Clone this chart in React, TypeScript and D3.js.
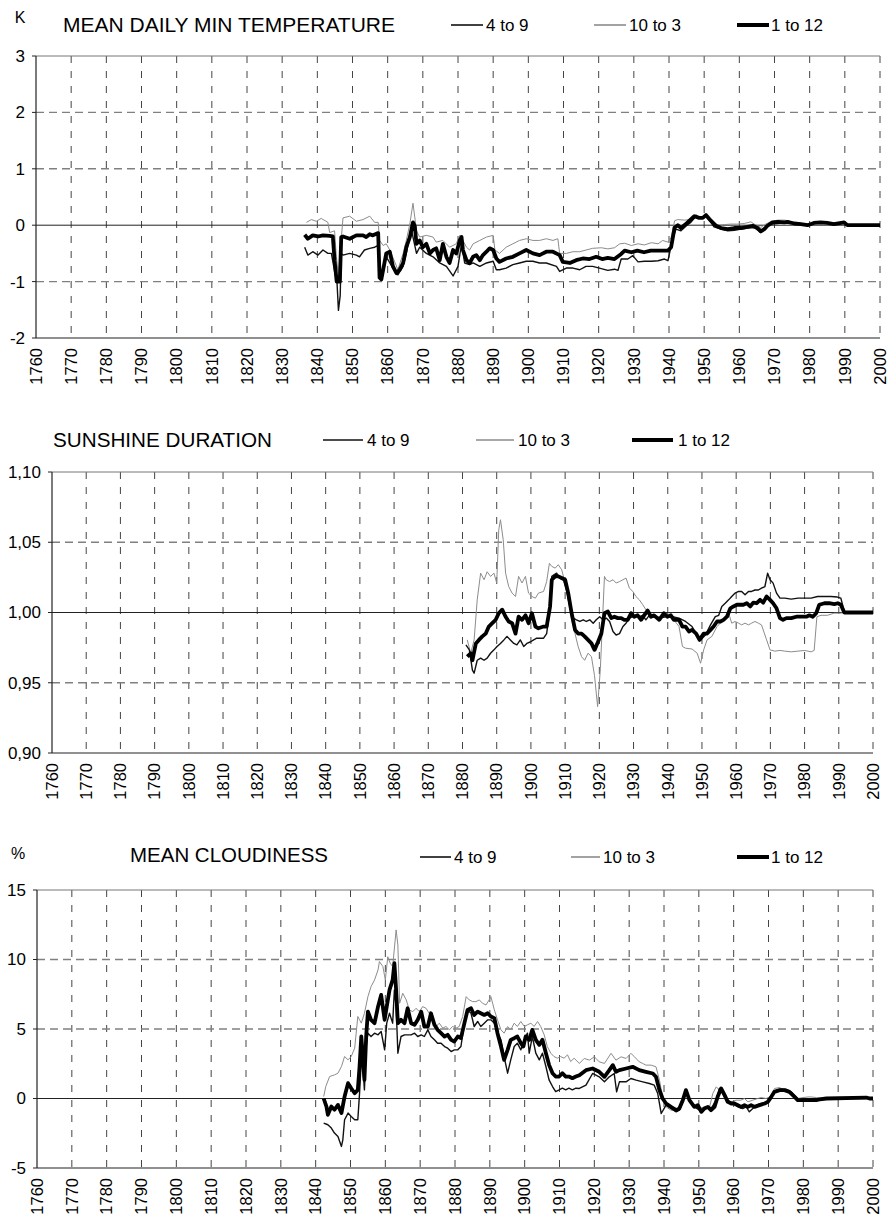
import React from 'react';
import * as d3 from 'd3';

type Pt = [number, number];

// x axis tick labels (shared by all three panels)
const decades = [1760, 1770, 1780, 1790, 1800, 1810, 1820, 1830, 1840, 1850, 1860, 1870, 1880,
  1890, 1900, 1910, 1920, 1930, 1940, 1950, 1960, 1970, 1980, 1990, 2000];

const seasons = ['4 to 9', '10 to 3', '1 to 12'];

// ---- MEAN DAILY MIN TEMPERATURE (K) ----
const tminTicks = [-2, -1, 0, 1, 2, 3];

const tmin4to9: Pt[] = [
  [1836.4, -0.39], [1837.3, -0.53], [1838.7, -0.47], [1840.2, -0.53], [1841.6, -0.44], [1843, -0.5], [1844, -0.5],
  [1845, -0.85], [1845.6, -1.02], [1846, -1.51], [1846.5, -1.25], [1846.8, -0.5], [1847.3, -0.53], [1849.2, -0.5],
  [1851.1, -0.53], [1852, -0.56], [1853.4, -0.44], [1854.9, -0.41], [1856.3, -0.39], [1857.3, -0.36], [1857.8, -0.85],
  [1858.2, -0.95], [1859.6, -0.56], [1861.5, -0.76], [1862.9, -0.88], [1864.4, -0.73], [1865.3, -0.5], [1866.7, -0.07],
  [1867.2, -0.21], [1868.2, -0.5], [1869.1, -0.39], [1871, -0.5], [1872.9, -0.56], [1874.8, -0.67], [1876.7, -0.73],
  [1878.6, -0.9], [1880, -0.73], [1881, -0.33], [1881.9, -0.67], [1883.3, -0.7], [1884.3, -0.67], [1886.2, -0.73],
  [1888.1, -0.67], [1890, -0.64], [1890.9, -0.79], [1891.8, -0.79], [1893.7, -0.76], [1895.6, -0.7], [1897.5, -0.67],
  [1899.4, -0.64], [1901.3, -0.64], [1903.2, -0.67], [1905.1, -0.67], [1908, -0.73], [1908.9, -0.82], [1910.8, -0.76],
  [1912.7, -0.76], [1914.6, -0.79], [1916.4, -0.73], [1918.3, -0.73], [1920.2, -0.76], [1922.6, -0.8], [1924.5, -0.78],
  [1925.5, -0.8], [1926.4, -0.6], [1928.3, -0.6], [1929.7, -0.54], [1931.2, -0.65], [1933, -0.64], [1935, -0.64],
  [1936.9, -0.63], [1938.7, -0.6], [1939.7, -0.63], [1941.1, -0.22], [1942, -0.07], [1943.4, -0.1], [1945.1, 0.0],
  [1946.2, 0.05], [1947.7, 0.16], [1949.1, 0.12], [1950.5, 0.16], [1951.9, 0.05], [1952.8, -0.03], [1954.8, -0.07],
  [1956.7, -0.1], [1958.6, -0.09], [1960.5, -0.07], [1962.3, -0.05], [1964.2, -0.04], [1966.1, -0.13], [1967.5, -0.05],
  [1968.9, 0.02], [1970.9, 0.03], [1973.7, 0.05], [1976.5, 0.04], [1979.4, 0.0], [1981.2, 0.05], [1985, 0.04],
  [1987.9, 0.03], [1989.8, 0.05], [1990.7, 0.0], [2000, 0.0],
];

const tmin10to3: Pt[] = [
  [1836.9, 0.05], [1838.3, 0.1], [1839.7, 0.07], [1841.1, 0.12], [1843, 0.05], [1843.5, -0.13], [1844.9, -0.1],
  [1845.4, -0.55], [1846, -0.9], [1846.6, -0.4], [1847.3, 0.13], [1849.2, 0.16], [1851.1, 0.07], [1853, 0.1],
  [1854.9, 0.16], [1856.3, 0.05], [1857.3, 0.05], [1857.7, -0.27], [1858.7, -0.36], [1859.6, -0.33], [1860.6, -0.44],
  [1862, -0.65], [1862.9, -0.79], [1864.4, -0.5], [1865.3, -0.27], [1866.3, 0.02], [1867.2, 0.39], [1868.2, -0.1],
  [1869.1, -0.21], [1871, -0.18], [1872.9, -0.21], [1873.8, -0.3], [1875.7, -0.27], [1877.6, -0.39], [1879.5, -0.33],
  [1880.5, -0.18], [1881.4, -0.27], [1882.4, -0.39], [1883.3, -0.44], [1884.3, -0.33], [1886.2, -0.27], [1888.1, -0.21],
  [1890, -0.18], [1890.5, -0.44], [1891.8, -0.5], [1893.7, -0.39], [1895.6, -0.33], [1897.5, -0.27], [1899.4, -0.24],
  [1901.3, -0.27], [1903.2, -0.27], [1905.1, -0.24], [1907, -0.27], [1908.4, -0.24], [1908.9, -0.5], [1910.8, -0.5],
  [1912.7, -0.47], [1914.6, -0.47], [1916.4, -0.44], [1918.3, -0.41], [1920.8, -0.4], [1922.6, -0.42], [1924.5, -0.4],
  [1926, -0.33], [1927.4, -0.32], [1929.3, -0.36], [1931.2, -0.33], [1933, -0.35], [1935, -0.31], [1936.9, -0.33],
  [1938.2, -0.27], [1939.7, -0.3], [1940.6, -0.22], [1941.6, 0.08], [1942.5, 0.1], [1944.4, 0.09], [1946.2, 0.1],
  [1947.7, 0.19], [1949.1, 0.12], [1950.5, 0.18], [1952.4, 0.08], [1953.8, 0.0], [1955.7, 0.01], [1957.6, 0.02],
  [1959.5, 0.02], [1961.4, 0.03], [1963.3, 0.06], [1964.2, 0.02], [1966.1, -0.04], [1967.5, 0.02], [1968.9, 0.06],
  [1970.9, 0.09], [1972.8, 0.09], [1973.7, 0.08], [1975.6, 0.05], [1978.5, 0.02], [1981.2, 0.04], [1985, 0.03],
  [1988.8, 0.03], [1990.7, 0.0], [2000, 0.0],
];

const tmin1to12: Pt[] = [
  [1836.4, -0.17], [1837.3, -0.24], [1838.7, -0.18], [1840.2, -0.2], [1841.6, -0.18], [1843.5, -0.19], [1844.4, -0.2],
  [1844.9, -0.62], [1845.5, -1.0], [1846.4, -1.0], [1846.8, -0.21], [1847.3, -0.2], [1849.2, -0.24], [1851.1, -0.18],
  [1853, -0.18], [1853.9, -0.21], [1854.9, -0.16], [1855.8, -0.18], [1857.3, -0.14], [1857.7, -0.93], [1858.2, -0.96],
  [1859.6, -0.5], [1860.6, -0.47], [1861.5, -0.73], [1862.5, -0.85], [1863.4, -0.79], [1864.4, -0.67], [1865.3, -0.39],
  [1866.3, -0.21], [1867.2, 0.05], [1867.7, -0.01], [1868.2, -0.33], [1869.1, -0.27], [1870, -0.39], [1871, -0.33],
  [1872, -0.5], [1872.9, -0.44], [1873.8, -0.41], [1874.8, -0.62], [1875.7, -0.33], [1876.7, -0.56], [1877.6, -0.67],
  [1878.6, -0.44], [1879.5, -0.5], [1880.5, -0.27], [1881, -0.21], [1881.4, -0.44], [1882.4, -0.62], [1883.3, -0.67],
  [1884.3, -0.56], [1885.2, -0.53], [1886.2, -0.62], [1887.1, -0.53], [1888.1, -0.47], [1889, -0.41], [1890, -0.44],
  [1890.9, -0.59], [1891.8, -0.65], [1893.7, -0.59], [1895.6, -0.56], [1897.5, -0.5], [1899.4, -0.44], [1901.3, -0.5],
  [1903.2, -0.53], [1905.1, -0.47], [1907, -0.47], [1908.9, -0.53], [1909.8, -0.65], [1911.8, -0.67], [1913.6, -0.62],
  [1915.5, -0.59], [1917.4, -0.6], [1919.3, -0.56], [1921, -0.6], [1922.6, -0.58], [1924.5, -0.6], [1926.4, -0.51],
  [1927.4, -0.45], [1929.3, -0.48], [1931, -0.45], [1932.9, -0.48], [1934.8, -0.45], [1936.7, -0.45], [1938.6, -0.45],
  [1939.7, -0.45], [1940.6, -0.39], [1941.6, -0.04], [1942.5, 0.0], [1943.4, -0.05], [1944.8, 0.02], [1945.3, 0.05],
  [1947.2, 0.16], [1948.6, 0.13], [1949.6, 0.13], [1950.5, 0.18], [1951.9, 0.08], [1953.4, -0.01], [1954.8, -0.05],
  [1956.7, -0.07], [1958.6, -0.05], [1960.5, -0.05], [1962.3, -0.03], [1963.8, -0.01], [1965.2, -0.05], [1966.1, -0.11],
  [1967.1, -0.07], [1968, -0.01], [1969.4, 0.05], [1970.9, 0.06], [1972.8, 0.05], [1973.7, 0.06], [1975.6, 0.03],
  [1977.5, 0.02], [1979.4, 0.0], [1981.2, 0.04], [1983.1, 0.05], [1985, 0.04], [1986.9, 0.02], [1989.8, 0.05],
  [1990.7, 0.0], [2000, 0.0],
];

// ---- SUNSHINE DURATION (ratio) ----
const sunTicks = [0.9, 0.95, 1.0, 1.05, 1.1];

const sun4to9: Pt[] = [
  [1881, 0.977], [1882, 0.9734], [1882.9, 0.959], [1883.4, 0.9568], [1884.3, 0.966], [1885.3, 0.9675], [1886.3, 0.966],
  [1887.2, 0.9675], [1888.2, 0.971], [1889.2, 0.9734], [1890.1, 0.9758], [1891.1, 0.978], [1892.1, 0.9805], [1893, 0.983],
  [1894, 0.9805], [1895, 0.978], [1895.9, 0.977], [1896.9, 0.9805], [1897.9, 0.9758], [1898.8, 0.978], [1899.8, 0.979],
  [1900.8, 0.9805], [1901.7, 0.9817], [1903.7, 0.9817], [1904.6, 0.985], [1905.4, 0.9995], [1906.1, 1.0257],
  [1907.5, 1.028], [1908.5, 1.0245], [1909.5, 1.0233], [1910.4, 1.016], [1911.4, 1.0043], [1912.4, 0.996],
  [1913.3, 0.9948], [1914.3, 0.9936], [1915.3, 0.9948], [1916.2, 0.9936], [1917.2, 0.9948], [1918.2, 0.9924],
  [1919.1, 0.9948], [1920.1, 0.997], [1921.1, 0.9948], [1922, 0.996], [1923, 0.9936], [1924, 0.9865], [1924.9, 0.984],
  [1925.9, 0.985], [1926.9, 0.99], [1927.8, 0.9924], [1928.8, 0.996], [1929.8, 0.997], [1930.7, 0.998], [1931.7, 0.997],
  [1932.7, 0.998], [1933.6, 0.9948], [1934.6, 0.998], [1935.6, 0.997], [1937.5, 0.996], [1939.4, 0.997], [1941.4, 0.997],
  [1943.3, 0.996], [1945.2, 0.9936], [1947.1, 0.99], [1948.3, 0.985], [1949.6, 0.9805], [1951, 0.984], [1952.5, 0.9912],
  [1953.9, 0.997], [1954.9, 0.998], [1955.8, 1.0043], [1956.8, 1.0066], [1957.8, 1.009], [1958.7, 1.0114],
  [1959.7, 1.0138], [1960.7, 1.015], [1961.6, 1.015], [1962.6, 1.0126], [1963.6, 1.015], [1964.5, 1.015],
  [1965.5, 1.016], [1966.5, 1.016], [1967.4, 1.0173], [1968.4, 1.0185], [1969.2, 1.028], [1969.9, 1.0233],
  [1970.8, 1.0209], [1971.8, 1.0138], [1972.8, 1.0102], [1974.2, 1.0102], [1976.1, 1.0095], [1978.1, 1.0102],
  [1980, 1.0102], [1981.9, 1.0102], [1983.8, 1.0114], [1985.8, 1.0114], [1987.7, 1.0114], [1989.6, 1.011],
  [1990.6, 1.0102], [1991.6, 1.0007], [2000, 1.0],
];

const sun10to3: Pt[] = [
  [1881.4, 0.9805], [1882.4, 0.971], [1883.4, 0.9805], [1884.3, 1.009], [1885.3, 1.028], [1886.3, 1.0233],
  [1887.2, 1.029], [1888.2, 1.0257], [1889.2, 1.028], [1890, 1.021], [1890.6, 1.0589], [1891.1, 1.066], [1891.9, 1.0518],
  [1892.6, 1.028], [1893.5, 1.0185], [1894.5, 1.0138], [1895.5, 1.0114], [1896.4, 1.0257], [1897.4, 1.021],
  [1898.4, 1.0257], [1899.3, 1.0138], [1900.3, 1.0114], [1901.3, 1.0102], [1902.2, 1.0138], [1903.7, 1.015],
  [1904.6, 1.022], [1905.4, 1.035], [1906.1, 1.0328], [1907.1, 1.0316], [1908, 1.034], [1909, 1.0304], [1910, 1.021],
  [1910.9, 1.009], [1911.9, 0.9948], [1912.9, 0.985], [1913.8, 0.9758], [1914.8, 0.9686], [1915.7, 0.966],
  [1916.7, 0.971], [1917.7, 0.9686], [1918.6, 0.955], [1919.5, 0.933], [1920.3, 0.96], [1921.5, 1.0257],
  [1922, 1.0233], [1923, 1.022], [1924, 1.0233], [1924.9, 1.021], [1925.9, 1.022], [1926.9, 1.0233], [1927.8, 1.0245],
  [1928.8, 1.0173], [1929.8, 1.015], [1930.7, 1.0114], [1931.7, 1.009], [1932.7, 1.0055], [1933.6, 1.002],
  [1934.6, 0.9995], [1935.6, 0.998], [1937.5, 0.997], [1939.4, 0.997], [1941.4, 0.996], [1943.3, 0.99],
  [1944.3, 0.9758], [1945.2, 0.9746], [1947.1, 0.974], [1948.6, 0.971], [1949.6, 0.9639], [1950.5, 0.9734],
  [1951.5, 0.9805], [1952.9, 0.983], [1954.4, 0.99], [1955.8, 0.9936], [1956.8, 0.997], [1957.8, 0.9995],
  [1958.7, 0.9924], [1959.7, 0.9936], [1960.7, 0.9924], [1961.6, 0.9912], [1962.6, 0.9924], [1963.6, 0.9912],
  [1964.5, 0.9924], [1965.5, 0.9936], [1966.5, 0.9924], [1967.4, 0.9912], [1968.9, 0.9805], [1969.9, 0.9734],
  [1971.3, 0.9725], [1972.8, 0.973], [1974.2, 0.9725], [1976.1, 0.972], [1978.1, 0.9725], [1980, 0.973],
  [1981.9, 0.972], [1982.8, 0.973], [1983.6, 0.997], [1984.8, 0.998], [1986.7, 0.998], [1988.6, 0.9995],
  [1990.5, 0.9995], [1991.6, 1.0], [2000, 1.0],
];

const sun1to12: Pt[] = [
  [1881.4, 0.9686], [1882.4, 0.971], [1882.9, 0.966], [1883.9, 0.978], [1884.8, 0.9805], [1885.8, 0.983],
  [1886.8, 0.985], [1887.7, 0.99], [1888.7, 0.9924], [1889.7, 0.9948], [1890.6, 0.9995], [1891.6, 1.002],
  [1892.6, 0.997], [1893.5, 0.9936], [1894.5, 0.9924], [1895.5, 0.985], [1896.4, 0.997], [1897.4, 0.9948],
  [1898.4, 0.998], [1899.3, 0.9924], [1900.3, 0.9995], [1901.3, 0.99], [1902.2, 0.9888], [1903.7, 0.99], [1904.6, 0.99],
  [1905.6, 1.0043], [1906.1, 1.0233], [1907.1, 1.0257], [1908, 1.0257], [1909, 1.0245], [1910, 1.0233],
  [1910.9, 1.0138], [1911.9, 0.9995], [1912.9, 0.9876], [1913.8, 0.985], [1914.8, 0.985], [1915.7, 0.983],
  [1916.7, 0.9805], [1917.7, 0.978], [1918.6, 0.9734], [1919.6, 0.979], [1920.6, 0.985], [1921.5, 0.9995],
  [1922.5, 1.0007], [1923.5, 0.996], [1924.4, 0.997], [1925.4, 0.996], [1926.4, 0.996], [1927.3, 0.9948],
  [1928.3, 0.9948], [1929.3, 0.9995], [1930.2, 0.997], [1931.2, 0.998], [1932.2, 0.9948], [1933.1, 0.998],
  [1934.1, 1.0014], [1935.1, 0.997], [1936, 0.998], [1937.5, 0.9948], [1938.9, 0.9995], [1939.9, 0.997],
  [1940.9, 0.998], [1941.8, 0.9948], [1943.3, 0.9948], [1944.3, 0.99], [1945.2, 0.99], [1946.2, 0.9865],
  [1947.1, 0.9876], [1948.3, 0.985], [1949.3, 0.9805], [1950.5, 0.985], [1951.5, 0.985], [1952.5, 0.9876],
  [1953.4, 0.99], [1954.4, 0.9936], [1955.4, 0.9936], [1956.3, 0.9948], [1957.3, 0.997], [1958.3, 1.003],
  [1959.2, 1.0043], [1960.2, 1.0055], [1961.2, 1.0055], [1962.1, 1.0055], [1963.1, 1.0066], [1964.1, 1.0043],
  [1965, 1.007], [1966, 1.0066], [1967, 1.009], [1967.9, 1.007], [1968.9, 1.0114], [1969.9, 1.009], [1970.8, 1.0066],
  [1971.8, 1.003], [1972.8, 0.996], [1973.7, 0.9948], [1974.7, 0.996], [1976.1, 0.996], [1977.6, 0.997],
  [1979, 0.997], [1980.5, 0.997], [1981.4, 0.998], [1982.4, 0.997], [1983.4, 0.9995], [1984.3, 1.0055],
  [1985.8, 1.0066], [1987.2, 1.0066], [1988.7, 1.006], [1989.7, 1.0066], [1990.6, 1.0055], [1991.6, 1.0], [2000, 1.0],
];

// ---- MEAN CLOUDINESS (%) ----
const cloudTicks = [-5, 0, 5, 10, 15];

const cloud4to9: Pt[] = [
  [1842.3, -1.77], [1843.5, -1.89], [1844.5, -2.13], [1845.4, -2.49], [1846.4, -2.73], [1847.4, -3.45], [1847.8, -2.97],
  [1848.3, -1.53], [1849.3, -1.05], [1850.2, -1.29], [1851.2, -1.53], [1852.1, -1.53], [1852.6, 0.38], [1853.1, 2.78],
  [1853.6, 2.06], [1854, 0.62], [1854.5, 3.74], [1855, 4.7], [1855.9, 4.46], [1856.9, 4.7], [1857.9, 4.58],
  [1858.8, 4.82], [1859.8, 3.5], [1860.4, 5.42], [1861.2, 6.13], [1862.1, 5.42], [1862.6, 7.81], [1863.1, 6.61],
  [1863.6, 3.26], [1864.5, 4.46], [1865.5, 4.58], [1866.4, 4.58], [1867.4, 4.58], [1868.4, 4.7], [1869.3, 4.46],
  [1870.3, 4.58], [1871.2, 4.46], [1872.2, 4.94], [1873.1, 4.46], [1874.1, 4.22], [1875, 3.98], [1876, 3.98],
  [1877, 3.74], [1877.9, 3.62], [1878.9, 3.38], [1879.8, 3.5], [1880.8, 3.5], [1881.7, 3.74], [1882.7, 5.42],
  [1883.6, 6.37], [1884.6, 6.13], [1885.5, 5.18], [1886.5, 5.54], [1887.4, 5.18], [1888.4, 5.42], [1889.4, 5.66],
  [1890.3, 5.66], [1891.3, 5.42], [1892.2, 4.7], [1893.2, 4.22], [1894.1, 3.02], [1895.1, 1.82], [1896, 2.78],
  [1897, 3.74], [1897.9, 3.98], [1898.9, 3.5], [1899.9, 4.22], [1900.8, 4.7], [1901.3, 3.26], [1902.2, 4.46],
  [1903.2, 3.26], [1904.2, 2.78], [1905.1, 3.26], [1906.1, 2.3], [1907, 1.34], [1908, 0.86], [1908.9, 0.5],
  [1909.9, 0.62], [1910.8, 0.74], [1911.8, 0.62], [1912.7, 0.74], [1913.7, 0.62], [1914.7, 0.74], [1915.7, 0.72],
  [1917.6, 0.96], [1919.5, 1.8], [1921.4, 1.56], [1922.9, 1.2], [1924.3, 1.56], [1925.7, 1.8], [1926.4, 0.48],
  [1927.2, 1.2], [1929.1, 1.2], [1930.5, 1.44], [1932, 1.32], [1933.9, 1.2], [1935.8, 1.08], [1937.2, 0.96],
  [1938.2, 0.36], [1939.2, -1.08], [1940.6, -0.48], [1942, -0.72], [1943.5, -0.96], [1944.4, -0.84], [1946.3, 0.36],
  [1947.3, -0.12], [1948.7, -0.6], [1950.2, -0.84], [1951.6, -0.72], [1952.6, -0.6], [1953.5, -0.72], [1955, -0.12],
  [1955.9, 0.72], [1956.9, 0.48], [1958.3, -0.12], [1959.8, -0.36], [1961.2, -0.6], [1962.6, -0.72], [1963.6, -0.6],
  [1964.5, -0.96], [1965.5, -0.72], [1966.5, -0.48], [1967.9, -0.36], [1969.3, -0.31], [1970.3, -0.12],
  [1971.2, 0.24], [1972.2, 0.6], [1973.6, 0.67], [1975.1, 0.65], [1976.5, 0.48], [1978, 0.07], [1978.9, -0.12],
  [1981.8, -0.12], [1984.7, -0.07], [1986.6, 0.0], [2000, 0.0],
];

const cloud10to3: Pt[] = [
  [1842.3, 0.14], [1842.9, 0.86], [1844, 1.58], [1845.4, 1.7], [1846.4, 1.82], [1847.4, 2.3], [1848.3, 3.02],
  [1849.3, 2.78], [1850.2, 3.02], [1851.2, 3.62], [1852.1, 5.9], [1852.6, 5.66], [1853.1, 5.42], [1854, 6.13],
  [1855, 7.33], [1855.9, 8.05], [1856.9, 8.53], [1857.9, 9.25], [1858.3, 9.85], [1859.3, 9.49], [1860, 8.53],
  [1860.7, 10.2], [1861.4, 9.73], [1862.1, 9.49], [1863.1, 12.13], [1863.6, 11.05], [1864.1, 6.85], [1865, 7.57],
  [1866, 7.09], [1866.9, 6.37], [1867.9, 6.25], [1868.8, 6.49], [1869.8, 6.25], [1870.7, 6.61], [1871.7, 6.49],
  [1872.6, 6.13], [1873.6, 5.66], [1874.6, 5.18], [1875.5, 5.42], [1876.5, 5.06], [1877.4, 5.18], [1878.4, 4.94],
  [1879.3, 5.18], [1880.3, 5.06], [1881.2, 5.18], [1882.2, 5.9], [1883.2, 7.33], [1884.1, 7.09], [1885.1, 6.97],
  [1886, 6.97], [1887, 7.09], [1887.9, 6.85], [1888.9, 6.73], [1889.8, 7.09], [1890.3, 7.33], [1891.3, 6.37],
  [1892.2, 5.66], [1893.2, 4.94], [1894.1, 4.7], [1895.1, 5.18], [1896, 4.94], [1897, 5.42], [1897.9, 5.18],
  [1898.9, 5.54], [1899.9, 5.18], [1900.8, 5.3], [1901.8, 5.42], [1902.7, 5.18], [1903.7, 5.54], [1904.6, 5.18],
  [1905.6, 4.58], [1906.5, 3.74], [1907.5, 3.26], [1908.4, 3.02], [1909.4, 2.9], [1910.3, 3.02], [1911.3, 2.9],
  [1912.3, 3.14], [1913.2, 2.66], [1914.2, 2.9], [1915.7, 2.52], [1917.1, 2.88], [1918.6, 2.76], [1920, 3.0],
  [1921.4, 2.64], [1922.9, 2.52], [1924.8, 3.25], [1926.2, 2.76], [1927.7, 3.0], [1929.1, 2.88], [1930.5, 3.25],
  [1931.5, 3.0], [1932.9, 2.64], [1933.9, 2.52], [1934.8, 2.4], [1936.3, 2.4], [1937.7, 2.28], [1938.7, 1.32],
  [1939.6, 0.12], [1940.6, -0.6], [1942, -0.84], [1943.5, -0.84], [1944.4, -0.6], [1945.4, 0.12], [1946.3, 0.36],
  [1947.3, -0.12], [1948.7, -0.48], [1950.2, -0.72], [1951.6, -0.6], [1953, -0.72], [1954, 0.36], [1955, 0.84],
  [1956.4, 0.48], [1957.8, -0.12], [1959.3, -0.24], [1960.7, -0.12], [1962.1, -0.12], [1963.1, 0.0], [1964.1, -0.24],
  [1965.5, -0.12], [1966.9, 0.0], [1967.9, 0.07], [1969.3, 0.0], [1970.8, 0.17], [1971.7, 0.72], [1973.2, 0.79],
  [1974.6, 0.6], [1976, 0.48], [1977.5, 0.24], [1978.4, 0.0], [1979.9, 0.07], [1981.8, 0.12], [1983.7, 0.07],
  [1986.6, 0.0], [2000, 0.0],
];

const cloud1to12: Pt[] = [
  [1842.3, 0.0], [1843.1, -0.58], [1843.5, -1.17], [1844.5, -0.58], [1845.4, -0.81], [1846.4, -0.46], [1847.4, -1.05],
  [1848.3, 0.14], [1849.3, 1.1], [1850.2, 0.74], [1851.2, 0.38], [1852.1, 0.62], [1852.6, 2.3], [1853.1, 4.46],
  [1853.6, 2.78], [1854, 1.34], [1854.5, 4.46], [1855, 6.25], [1855.9, 5.66], [1856.9, 5.42], [1857.9, 6.61],
  [1858.8, 7.45], [1859.8, 5.66], [1860.4, 6.61], [1861.2, 7.81], [1862.1, 8.53], [1862.6, 9.73], [1863.1, 7.81],
  [1863.6, 5.42], [1864.5, 5.66], [1865.5, 5.42], [1866.4, 6.49], [1867.4, 5.42], [1868.4, 5.3], [1869.3, 5.66],
  [1870.3, 6.25], [1871.2, 5.18], [1872.2, 5.18], [1873.1, 6.13], [1874.1, 5.3], [1875, 4.94], [1876, 4.7],
  [1877, 4.46], [1877.9, 4.58], [1878.9, 4.22], [1879.8, 4.1], [1880.8, 4.46], [1881.7, 4.34], [1882.7, 5.42],
  [1883.6, 6.37], [1884.6, 6.49], [1885.5, 6.01], [1886.5, 6.25], [1887.4, 6.13], [1888.4, 6.01], [1889.4, 6.13],
  [1890.3, 5.9], [1891.3, 5.78], [1892.2, 4.7], [1893.2, 3.74], [1894.1, 2.78], [1895.1, 3.5], [1896, 4.22],
  [1897, 4.34], [1897.9, 4.46], [1898.9, 3.98], [1899.6, 3.74], [1900.3, 4.46], [1901.3, 4.22], [1902.2, 4.94],
  [1903.2, 4.22], [1904.2, 3.86], [1905.1, 4.22], [1906.1, 3.26], [1907, 2.42], [1908, 1.82], [1908.9, 1.58],
  [1909.9, 1.58], [1910.8, 1.82], [1911.8, 1.58], [1912.7, 1.58], [1913.7, 1.46], [1914.7, 1.58], [1915.7, 1.68],
  [1917.6, 2.04], [1919.5, 2.16], [1921.4, 1.92], [1922.9, 1.56], [1924.3, 2.04], [1925.3, 2.4], [1926.2, 1.92],
  [1927.2, 2.04], [1929.1, 2.16], [1931, 2.28], [1932.9, 2.04], [1934.8, 1.92], [1936.8, 1.8], [1937.7, 1.56],
  [1938.7, 0.6], [1939.6, 0.0], [1940.6, -0.36], [1942, -0.6], [1943.5, -0.84], [1944.4, -0.72], [1945.4, -0.12],
  [1946.3, 0.6], [1947.3, -0.12], [1948.7, -0.6], [1949.7, -0.48], [1950.7, -0.96], [1951.6, -0.72], [1952.6, -0.6],
  [1953.5, -0.84], [1954.5, -0.6], [1955.4, 0.12], [1956.4, 0.72], [1957.4, 0.24], [1958.3, -0.24], [1959.3, -0.36],
  [1960.2, -0.36], [1961.2, -0.48], [1962.1, -0.6], [1963.1, -0.48], [1964.1, -0.6], [1965, -0.48], [1966, -0.6],
  [1967.4, -0.48], [1968.9, -0.36], [1969.8, -0.24], [1970.8, 0.12], [1971.7, 0.48], [1973.2, 0.6], [1974.6, 0.6],
  [1976, 0.48], [1977.5, 0.12], [1978.4, -0.12], [1979.9, -0.12], [1981.8, -0.12], [1983.7, -0.12], [1984.7, -0.07],
  [1986.6, 0.0], [1998.1, 0.07], [1999, 0.0], [2000, 0.0],
];

const FONT = '"Liberation Sans", Arial, Helvetica, sans-serif';

const seriesStyle = [
  { stroke: '#111', width: 1.4 },   // 4 to 9
  { stroke: '#8c8c8c', width: 1 },  // 10 to 3
  { stroke: '#000', width: 3.8 },   // 1 to 12
];

interface PanelProps {
  left: number;
  right: number;
  top: number;
  bottom: number;
  domain: [number, number];
  ticks: number[];
  fmt: (v: number) => string;
  baseline: number;
  series: Pt[][];
  unit?: { text: string; x: number; y: number };
  title: { text: string; x: number; y: number; w: number };
  legend: { x1: number; x2: number; tx: number }[];
  legendY: number;
}

const Panel: React.FC<PanelProps> = (p) => {
  const x = d3.scaleLinear().domain([1760, 2000]).range([p.left, p.right]);
  const y = d3.scaleLinear().domain(p.domain).range([p.bottom, p.top]);
  const line = d3.line<Pt>().x(d => x(d[0])).y(d => y(d[1]));
  const drawOrder = [1, 0, 2];
  const topTick = p.ticks[p.ticks.length - 1];

  return (
    <g fontFamily={FONT}>
      {p.unit && (
        <text x={p.unit.x} y={p.unit.y} fontSize={16} textAnchor="middle" dy="0.35em">{p.unit.text}</text>
      )}
      <text x={p.title.x} y={p.title.y} fontSize={20} dy="0.35em"
        textLength={p.title.w} lengthAdjust="spacingAndGlyphs">{p.title.text}</text>
      {p.legend.map((l, i) => (
        <g key={i}>
          <line x1={l.x1} x2={l.x2} y1={p.legendY} y2={p.legendY}
            stroke={seriesStyle[i].stroke} strokeWidth={i === 2 ? 4 : 1.6} />
          <text x={l.tx} y={p.legendY} fontSize={17} dy="0.35em">{seasons[i]}</text>
        </g>
      ))}

      {/* vertical decade grid */}
      {decades.slice(1).map(d => (
        <line key={d} x1={x(d)} x2={x(d)} y1={p.top} y2={p.bottom}
          stroke="#444" strokeWidth={1} strokeDasharray="7,8" />
      ))}
      {/* horizontal grid */}
      {p.ticks.filter(t => t !== p.baseline && t !== p.ticks[0] && t !== topTick).map(t => (
        <line key={t} x1={p.left} x2={p.right} y1={y(t)} y2={y(t)}
          stroke="#808080" strokeWidth={1.4} strokeDasharray="8,5" />
      ))}
      <line x1={p.left} x2={p.right} y1={y(topTick)} y2={y(topTick)} stroke="#777" strokeWidth={1} />
      <line x1={p.left} x2={p.right} y1={y(p.baseline)} y2={y(p.baseline)} stroke="#222" strokeWidth={1} />
      <line x1={p.left} x2={p.right} y1={p.bottom} y2={p.bottom} stroke="#222" strokeWidth={1.2} />
      <line x1={p.left} x2={p.left} y1={p.top} y2={p.bottom} stroke="#222" strokeWidth={1.2} />

      {/* y ticks and labels */}
      {p.ticks.map(t => (
        <g key={t}>
          <line x1={p.left - 4} x2={p.left} y1={y(t)} y2={y(t)} stroke="#222" />
          <text x={p.left - 11} y={y(t)} dy="0.35em" textAnchor="end" fontSize={17}>{p.fmt(t)}</text>
        </g>
      ))}
      {/* x labels */}
      {decades.map(d => (
        <text key={d} transform={`translate(${x(d)},${p.bottom + 10}) rotate(-90)`}
          textAnchor="end" dy="0.35em" fontSize={16.5}>{d}</text>
      ))}

      {drawOrder.map(i => (
        <path key={i} d={line(p.series[i]) || ''} fill="none"
          stroke={seriesStyle[i].stroke} strokeWidth={seriesStyle[i].width} strokeLinejoin="round" />
      ))}
    </g>
  );
};

const App: React.FC = () => {
  const intFmt = (v: number) => String(v);
  const commaFmt = (v: number) => v.toFixed(2).replace('.', ',');
  return (
    <div style={{ position: 'absolute', left: 0, top: 0 }}>
      <svg width={890} height={1223} style={{ display: 'block', background: '#fff' }}>
        <Panel left={36} right={880} top={56} bottom={338} domain={[-2, 3]} ticks={tminTicks} fmt={intFmt}
          baseline={0} series={[tmin4to9, tmin10to3, tmin1to12]}
          unit={{ text: 'K', x: 20, y: 17 }}
          title={{ text: 'MEAN DAILY MIN TEMPERATURE', x: 63, y: 25, w: 332 }}
          legend={[{ x1: 451, x2: 483, tx: 486 }, { x1: 594, x2: 626, tx: 629 }, { x1: 737, x2: 769, tx: 771 }]}
          legendY={25} />
        <Panel left={52} right={873} top={472} bottom={753} domain={[0.9, 1.1]} ticks={sunTicks} fmt={commaFmt}
          baseline={1.0} series={[sun4to9, sun10to3, sun1to12]}
          title={{ text: 'SUNSHINE DURATION', x: 53, y: 440, w: 219 }}
          legend={[{ x1: 323, x2: 363, tx: 367 }, { x1: 476, x2: 514, tx: 518 }, { x1: 632, x2: 673, tx: 678 }]}
          legendY={440} />
        <Panel left={37} right={873} top={890} bottom={1168} domain={[-5, 15]} ticks={cloudTicks} fmt={intFmt}
          baseline={0} series={[cloud4to9, cloud10to3, cloud1to12]}
          unit={{ text: '%', x: 18, y: 853 }}
          title={{ text: 'MEAN CLOUDINESS', x: 130, y: 855, w: 198 }}
          legend={[{ x1: 420, x2: 451, tx: 454 }, { x1: 571, x2: 600, tx: 603 }, { x1: 737, x2: 769, tx: 771 }]}
          legendY={857} />
      </svg>
    </div>
  );
};

export default App;
